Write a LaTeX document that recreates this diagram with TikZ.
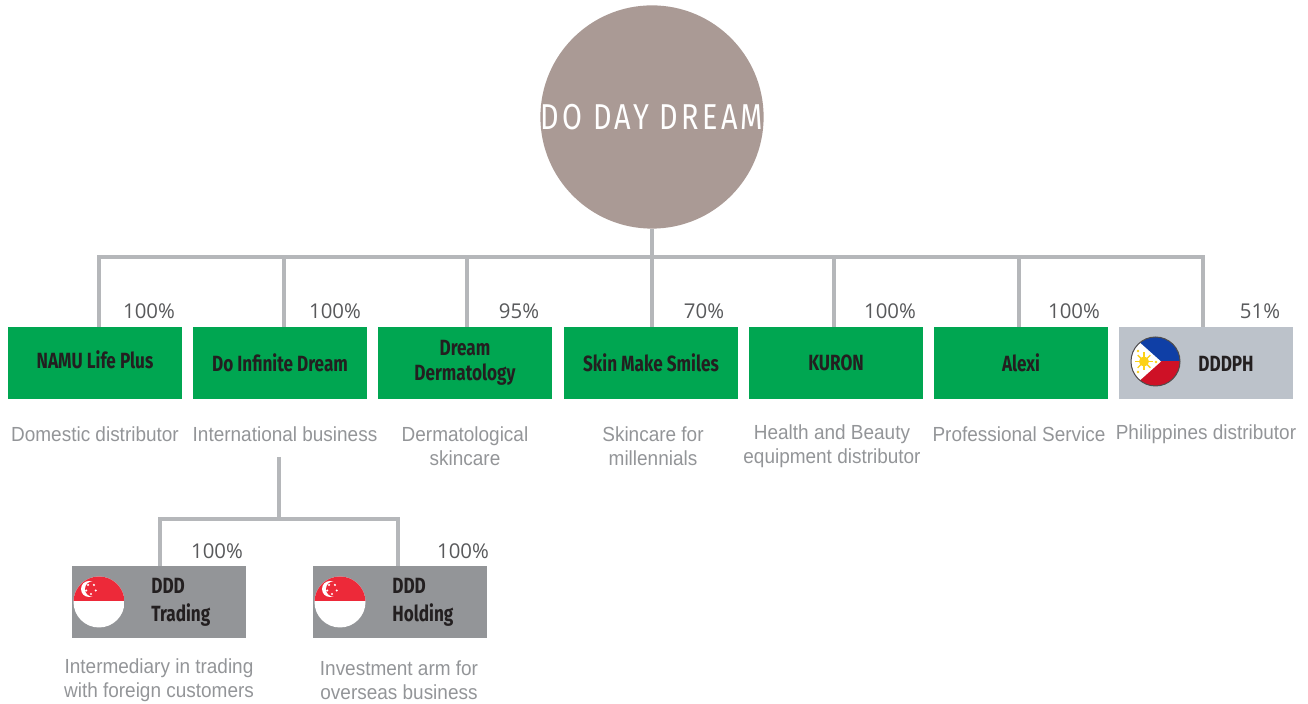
\documentclass[tikz,border=0pt]{standalone}
\usepackage{fontspec}
\setmainfont{Liberation Sans}
\newfontfamily\dinfont[FakeStretch=0.78]{Fira Sans}
\newfontfamily\dinwide[FakeStretch=0.8,LetterSpace=9]{Fira Sans}
\newfontfamily\descfont[FakeStretch=0.93]{Liberation Sans}
\newfontfamily\pctfont{Open Sans}
\definecolor{rootcol}{HTML}{AA9A95}
\definecolor{boxgreen}{HTML}{00A651}
\definecolor{boxpale}{HTML}{BCC2CA}
\definecolor{boxgrey}{HTML}{939598}
\definecolor{inkcol}{HTML}{231F20}
\definecolor{pctcol}{HTML}{58595B}
\definecolor{desccol}{HTML}{939598}
\definecolor{linecol}{HTML}{B5B7BA}
\definecolor{flagblue}{HTML}{0F3FA6}
\definecolor{flagred}{HTML}{CE1126}
\definecolor{sgred}{HTML}{ED2939}
\definecolor{flagsun}{HTML}{FCD116}
\tikzset{
  link/.style={draw=linecol,line width=1.75pt},
  unitbox/.style={fill=boxgreen,text=inkcol,minimum width=87pt,minimum height=36pt,inner sep=0pt,align=center,font=\dinfont\bfseries\fontsize{11}{12.5}\selectfont},
  flagbox/.style={unitbox,fill=#1},
  boxtext/.style={text=inkcol,inner sep=0pt,align=left,anchor=west,font=\dinfont\bfseries\fontsize{11}{14}\selectfont},
  pct/.style={text=pctcol,inner sep=0pt,font=\pctfont\fontsize{10.2}{12}\selectfont},
  desc/.style={text=desccol,inner sep=0pt,align=center,font=\descfont\fontsize{10.2}{12}\selectfont},
}
\begin{document}
\begin{tikzpicture}[x=0.5pt,y=-0.5pt]
\useasboundingbox (0,0) rectangle (1308,704);
% holding company
\node [circle,fill=rootcol,minimum size=110pt,inner sep=0pt,text=white,font=\dinwide\fontsize{18}{20}\selectfont] (root) at (652,117) {DO DAY DREAM};
% first row
\node [unitbox] (namu) at (95,363) {\raisebox{3pt}{NAMU Life Plus}};
\node [unitbox] (infinite) at (280,363) {Do Infinite Dream};
\node [unitbox] (derma) at (465,363) {Dream\\Dermatology};
\node [unitbox] (smiles) at (651,363) {Skin Make Smiles};
\node [unitbox] (kuron) at (836,363) {KURON};
\node [unitbox] (alexi) at (1021,363) {Alexi};
\node [flagbox=boxpale] (dddph) at (1206,363) {};
% second row
\node [flagbox=boxgrey] (trading) at (158.5,602) {};
\node [flagbox=boxgrey] (holding) at (399.5,602) {};
\node [boxtext] (dddphtext) at (1198,364) {DDDPH};
\node [boxtext] (tradingtext) at (151,602) {DDD\\Trading};
\node [boxtext] (holdingtext) at (392,602) {DDD\\Holding};
% connectors
\coordinate (bus) at (652,257);
\coordinate (subtop) at (279,457);
\coordinate (subbus) at (279,519);
\draw [link] (root.south) -- (bus);
\foreach \n/\d in {namu/2pt,infinite/2pt,derma/1pt,smiles/0.5pt,kuron/-1pt,alexi/-1pt,dddph/-1.5pt}
  \draw [link] (bus) -| ([xshift=\d]\n.north);
\draw [link] (subtop) -- (subbus);
\draw [link] (subbus) -| ([xshift=0.75pt]trading.north);
\draw [link] (subbus) -| ([xshift=-0.75pt]holding.north);
% shares
\foreach \n/\x/\y/\t in {pa/149/311/100\%,pb/335/311/100\%,pc/519/311/95\%,pd/704/311/70\%,pe/890/311/100\%,pf/1074/311/100\%,pg/1260/311/51\%,ph/217/551/100\%,pi/463/551/100\%}
  \node [pct] (\n) at (\x,\y) {\t};
% descriptions
\node [desc] (da) at (95,434) {Domestic distributor};
\node [desc] (db) at (285,434) {International business};
\node [desc] (dc) at (465,446) {Dermatological\\skincare};
\node [desc] (dd) at (653,446) {Skincare for\\millennials};
\node [desc] (de) at (832,446) {Health and Beauty\\equipment distributor};
\node [desc] (df) at (1019,434) {Professional Service};
\node [desc] (dg) at (1206,434) {Philippines distributor};
\node [desc] (dh) at (159,680) {Intermediary in trading\\with foreign customers};
\node [desc] (di) at (399,680) {Investment arm for\\overseas business};
% philippine flag
\begin{scope}
\clip (1155.5,361.5) circle (24.5);
\fill [white] (1130,336) rectangle (1181,387);
\fill [flagblue] (1130,336) rectangle (1181,361.5);
\fill [flagred] (1130,361.5) rectangle (1181,387);
\fill [white] (1128,332) -- (1161,361.5) -- (1128,391) -- cycle;
\end{scope}
\draw [inkcol!80,line width=0.5pt] (1155.5,361.5) circle (24.5);
\fill [flagsun] (1144,361.5) circle (5);
\foreach \a in {0,45,...,315}
  \draw [flagsun,line width=0.7pt] (1144,361.5) -- ++(\a:9);
\foreach \x/\y in {1138/351,1138/372,1156/362}
  \fill [flagsun] (\x,\y) circle (1.3);
% singapore flags
\foreach \cx in {99,340}{
\begin{scope}
\clip (\cx,602) circle (25.5);
\fill [white] (\cx-26,576) rectangle (\cx+26,628);
\fill [sgred] (\cx-26,576) rectangle (\cx+26,601);
\fill [white] (\cx-10,589) circle (8);
\fill [sgred] (\cx-6.5,589) circle (7.5);
\foreach \a in {90,162,234,306,18}
  \fill [white] ([shift={(\a:5)}]\cx-8,-589+1178) circle (1.2);
\end{scope}
}
\end{tikzpicture}
\end{document}
